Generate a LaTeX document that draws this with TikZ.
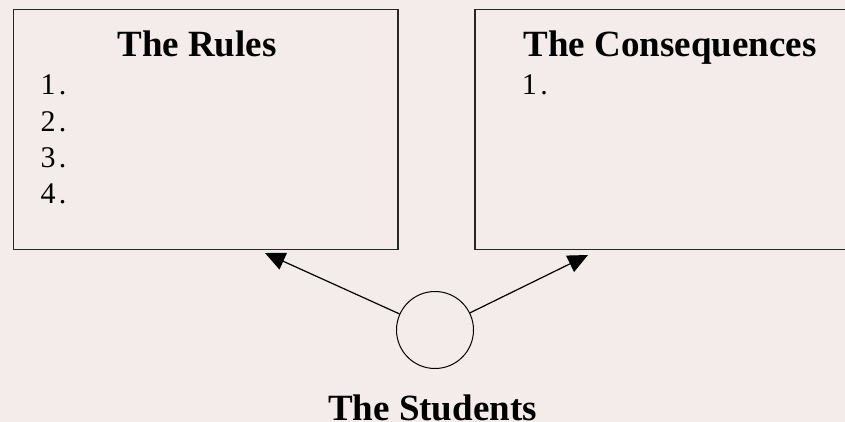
\documentclass[tikz,border=0pt]{standalone}
\usepackage{fontspec}
\setmainfont{Liberation Serif}
\usetikzlibrary{arrows.meta}
\definecolor{bg}{RGB}{243,236,234}
\newcommand{\itm}[1]{#1\kern3.5pt.}
\begin{document}
\begin{tikzpicture}[x=1pt,y=-1pt,
 panel/.style={draw=black!85,line width=1.5pt,inner sep=0pt,anchor=north west,minimum height=240pt},
 title/.style={font=\fontsize{37}{44}\selectfont\bfseries,inner sep=0pt,anchor=base},
 item/.style={font=\fontsize{30}{36}\selectfont,inner sep=0pt,anchor=base west},
 arr/.style={line width=1.2pt,-{Triangle[length=20pt,width=18pt]}}]
\useasboundingbox (0,0) rectangle (845,422);
\fill[bg] (0,0) rectangle (845,422);
\clip (0,0) rectangle (845,422);
% boxes
\node[panel,minimum width=384.3pt] (rules) at (12.7,8.7) {};
\node[panel,minimum width=400pt] (cons) at (474,8.7) {};
% titles
\node[title] (rt) at (197,57) {The Rules};
\node[title] (ct) at (670,57) {The Consequences};
% items
\node[item] (r1) at (40.3,95) {\itm{1}};
\node[item] (r2) at (40.3,131.5) {\itm{2}};
\node[item] (r3) at (40.3,167.8) {\itm{3}};
\node[item] (r4) at (40.3,204) {\itm{4}};
\node[item] (c1) at (521.7,95) {\itm{1}};
% students
\node[circle,draw=black,line width=1pt,minimum size=77pt,inner sep=0pt] (stu) at (435,330) {};
\node[title] (st) at (432.5,420) {The Students};
% arrows
\coordinate (tipL) at (265,253);
\coordinate (tipR) at (588,255);
\draw[arr] (stu) -- (tipL);
\draw[arr] (stu) -- (tipR);
\end{tikzpicture}
\end{document}
